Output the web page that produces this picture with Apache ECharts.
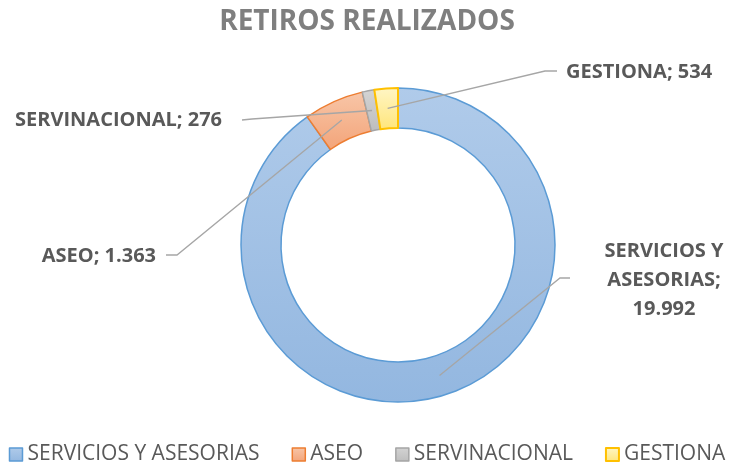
<!DOCTYPE html>
<html>
<head>
<meta charset="utf-8">
<script src="https://cdn.jsdelivr.net/npm/echarts@6/dist/echarts.min.js"></script>
<style>
  html, body { margin: 0; padding: 0; background: #fff; }
  #main { width: 734px; height: 462px; }
</style>
</head>
<body>
<div id="main"></div>
<script>
var categories = ['SERVICIOS Y ASESORIAS', 'ASEO', 'SERVINACIONAL', 'GESTIONA'];
var values = [19992, 1363, 276, 534];
var labelNames = ['SERVICIOS Y\nASESORIAS', 'ASEO', 'SERVINACIONAL', 'GESTIONA'];

var fills = [
    ['#b0cbea', '#93b7e0'],
    ['#f8c6a8', '#f3a479'],
    ['#d4d4d4', '#bdbdbd'],
    ['#fff6c6', '#ffe57a']
];
var borders = ['#5b9bd5', '#ed7d31', '#a5a5a5', '#ffc000'];

// where each label sits (x, y, align) and the elbow of its leader line
var labelSpots = [
    { x: 664, y: 280, align: 'center', bend: [560, 278], end: [570, 278] },
    { x: 156, y: 256, align: 'right', bend: [177, 255], end: [166, 255] },
    { x: 222, y: 120, align: 'right', bend: [252, 119], end: [242, 120] },
    { x: 566, y: 72, align: 'left', bend: [545, 71], end: [557, 71] }
];

var cx = 398, cy = 245, r0 = 117, r1 = 157;

function fmt(v) {
    return String(v).replace(/\B(?=(\d{3})+(?!\d))/g, '.');
}

var total = values.reduce(function (a, b) { return a + b; }, 0);

function midPoint(i) {
    var before = 0;
    for (var k = 0; k < i; k++) before += values[k];
    var ang = (before + values[i] / 2) / total * Math.PI * 2;
    var rm = (r0 + r1) / 2;
    return [cx + rm * Math.sin(ang), cy - rm * Math.cos(ang)];
}

function sliceStyle(i) {
    return {
        color: new echarts.graphic.LinearGradient(0, 0, 0, 1, [
            { offset: 0, color: fills[i][0] },
            { offset: 1, color: fills[i][1] }
        ]),
        borderColor: borders[i],
        borderWidth: i === 3 ? 2 : 1.5
    };
}

var pieData = categories.map(function (name, i) {
    return { name: name, value: values[i], itemStyle: sliceStyle(i) };
});

// same slices again, invisible, only to carry labels and leader lines above the ring
var labelData = categories.map(function (name, i) {
    return { name: name, value: values[i] };
});

var chart = echarts.init(document.getElementById('main'));

var option = {
    animation: false,
    title: {
        text: 'RETIROS REALIZADOS',
        left: 'center',
        top: 3,
        textStyle: {
            fontFamily: 'Open Sans',
            fontSize: 28,
            fontWeight: 'bold',
            color: '#7f7f7f'
        }
    },
    legend: {
        left: 'center',
        top: 439,
        itemWidth: 13,
        itemHeight: 13,
        itemGap: 32,
        icon: 'rect',
        textStyle: {
            fontFamily: 'Open Sans',
            fontSize: 21,
            color: '#595959'
        },
        data: categories.map(function (name, i) {
            return { name: name, itemStyle: sliceStyle(i) };
        })
    },
    series: [
        {
            type: 'pie',
            z: 2,
            center: [cx, cy],
            radius: [r0, r1],
            startAngle: 90,
            clockwise: true,
            label: { show: false },
            labelLine: { show: false },
            data: pieData
        },
        {
            type: 'pie',
            z: 5,
            silent: true,
            legendHoverLink: false,
            center: [cx, cy],
            radius: [r0, r1],
            startAngle: 90,
            clockwise: true,
            avoidLabelOverlap: false,
            itemStyle: { color: 'rgba(0,0,0,0)', borderWidth: 0 },
            data: labelData,
            label: {
                show: true,
                position: 'outside',
                fontFamily: 'Open Sans',
                fontSize: 20,
                fontWeight: 'bold',
                color: '#595959',
                lineHeight: 29,
                formatter: function (p) {
                    return labelNames[p.dataIndex] + ';' + (p.dataIndex === 0 ? '\n' : ' ') + fmt(p.value);
                }
            },
            labelLine: {
                show: true,
                lineStyle: { color: '#a6a6a6', width: 1.3 }
            },
            labelLayout: function (params) {
                var s = labelSpots[params.dataIndex];
                return {
                    x: s.x,
                    y: s.y,
                    align: s.align,
                    verticalAlign: 'middle',
                    labelLinePoints: [midPoint(params.dataIndex), s.bend, s.end]
                };
            }
        }
    ]
};

chart.setOption(option);
</script>
</body>
</html>
